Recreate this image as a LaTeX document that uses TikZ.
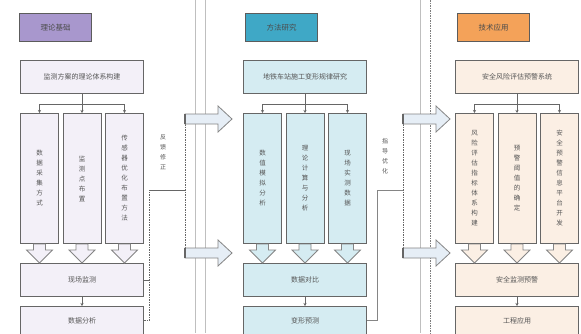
\documentclass[tikz,border=0pt]{standalone}
\usepackage{fontspec}
\newfontfamily\cjk{Noto Sans CJK SC}
\usetikzlibrary{arrows.meta}
\definecolor{purH}{HTML}{A897CD}
\definecolor{tealH}{HTML}{3FA8C6}
\definecolor{orgH}{HTML}{F4A259}
\definecolor{purL}{HTML}{F3F0F8}
\definecolor{tealL}{HTML}{D5ECF2}
\definecolor{orgL}{HTML}{FBEFE4}
\definecolor{edge}{HTML}{666666}
\definecolor{txt}{HTML}{555555}
\definecolor{arrL}{HTML}{E6EEF6}
\tikzset{
 base/.style={draw=edge, line width=1pt, inner sep=0pt, font=\cjk\fontsize{7}{10}\selectfont, text=txt, align=center, anchor=north west},
 hdr/.style={base, minimum width=72pt, minimum height=28pt, line width=1.2pt, draw=edge!90!black, font=\cjk\fontsize{7.5}{10}\selectfont, text=black!70},
 wide/.style={base, minimum width=123pt, minimum height=33pt},
 lowbox/.style={base, minimum width=123pt, minimum height=28pt},
 sub/.style={base, minimum width=38pt, minimum height=130pt, font=\cjk\fontsize{6.5}{10}\selectfont},
 link/.style={draw=edge, line width=0.6pt},
 dlink/.style={draw=edge, line width=0.9pt, dash pattern=on 1.5pt off 1pt},
 tip/.style={-{Stealth[length=3pt,width=3pt]}},
 barr/.style={draw=edge!80, line width=0.8pt, line join=miter},
 rail/.style={draw=gray!50, line width=0.8pt},
 vlab/.style={font=\cjk\fontsize{6}{10}\selectfont, text=txt, align=center, inner sep=0pt},
}
\newcommand\downarr[2]{\draw[barr, fill=#2] ([xshift=-6pt]#1.south) -- ++(12,0) -- ++(0,6) -- ++(7,0) -- ++(-13,13) -- ++(-13,-13) -- ++(7,0) -- cycle;}
\newcommand\rightarr[1]{\draw[barr, fill=arrL] ([yshift=5pt]#1) -- ++(33,0) -- ++(0,-8) -- ++(14,13) -- ++(-14,13) -- ++(0,-8) -- ++(-33,0) -- cycle;
 \draw[edge, line width=1.4pt] ([yshift=5pt]#1) -- ([yshift=-5pt]#1);}
\begin{document}
\begin{tikzpicture}[x=1pt,y=-1pt]
\useasboundingbox (0,0) rectangle (581,333);
\fill[white] (0,0) rectangle (581,333);
% rails
\draw[rail] (195,0) -- (195,333);
\draw[rail] (205,0) -- (205,333);
\draw[rail] (420,0) -- (420,333);
\draw[dlink, draw=edge!85] (430,0) -- (430,333);

% ---------- column 1 ----------
\node[hdr, fill=purH] (h1) at (19,13) {理论基础};
\node[wide, fill=purL] (t1) at (20,60) {监测方案的理论体系构建};
\node[sub, fill=purL] (a1) at (20,113) {数\\据\\采\\集\\方\\式};
\node[sub, fill=purL] (b1) at (62.5,113) {监\\测\\点\\布\\置};
\node[sub, fill=purL] (c1) at (105,113) {传\\感\\器\\优\\化\\布\\置\\方\\法};
\node[wide, fill=purL] (p1) at (20,263) {现场监测};
\node[lowbox, fill=purL] (q1) at (20,306) {数据分析};
\draw[link] (t1.south) -- ++(0,10) coordinate (j1);
\draw[link] (a1.north |- j1) -- (c1.north |- j1);
\draw[link,tip] (a1.north |- j1) -- (a1.north);
\draw[link,tip] (b1.north |- j1) -- (b1.north);
\draw[link,tip] (c1.north |- j1) -- (c1.north);
\draw[link,tip] (p1.south) -- (q1.north);
\downarr{a1}{purL}
\downarr{b1}{purL}
\downarr{c1}{purL}

% ---------- column 2 ----------
\node[hdr, fill=tealH] (h2) at (245,13) {方法研究};
\node[wide, fill=tealL] (t2) at (243,60) {地铁车站施工变形规律研究};
\node[sub, fill=tealL] (a2) at (243,113) {数\\值\\模\\拟\\分\\析};
\node[sub, fill=tealL] (b2) at (285.5,113) {理\\论\\计\\算\\与\\分\\析};
\node[sub, fill=tealL] (c2) at (328,113) {现\\场\\实\\测\\数\\据};
\node[wide, fill=tealL] (p2) at (243,263) {数据对比};
\node[lowbox, fill=tealL] (q2) at (243,306) {变形预测};
\draw[link] (t2.south) -- ++(0,10) coordinate (j2);
\draw[link] (a2.north |- j2) -- (c2.north |- j2);
\draw[link,tip] (a2.north |- j2) -- (a2.north);
\draw[link,tip] (b2.north |- j2) -- (b2.north);
\draw[link,tip] (c2.north |- j2) -- (c2.north);
\draw[link,tip] (p2.south) -- (q2.north);
\downarr{a2}{tealL}
\downarr{b2}{tealL}
\downarr{c2}{tealL}

% ---------- column 3 ----------
\node[hdr, fill=orgH] (h3) at (457,13) {技术应用};
\node[wide, fill=orgL] (t3) at (455,60) {安全风险评估预警系统};
\node[sub, fill=orgL] (a3) at (455,113) {风\\险\\评\\估\\指\\标\\体\\系\\构\\建};
\node[sub, fill=orgL] (b3) at (497.5,113) {预\\警\\阈\\值\\的\\确\\定};
\node[sub, fill=orgL] (c3) at (540,113) {安\\全\\预\\警\\信\\息\\平\\台\\开\\发};
\node[wide, fill=orgL] (p3) at (455,263) {安全监测预警};
\node[lowbox, fill=orgL] (q3) at (455,306) {工程应用};
\draw[link] (t3.south) -- ++(0,10) coordinate (j3);
\draw[link] (a3.north |- j3) -- (c3.north |- j3);
\draw[link,tip] (a3.north |- j3) -- (a3.north);
\draw[link,tip] (b3.north |- j3) -- (b3.north);
\draw[link,tip] (c3.north |- j3) -- (c3.north);
\draw[link,tip] (p3.south) -- (q3.north);
\downarr{a3}{orgL}
\downarr{b3}{orgL}
\downarr{c3}{orgL}

% ---------- links between columns ----------
\coordinate (u1) at (185,119);
\coordinate (l1) at (185,253);
\coordinate (m1) at (149,190);
\coordinate (u2) at (403,119);
\coordinate (l2) at (403,253);
\coordinate (m2) at (377,190);

\draw[link] (p1.east) -- (p1.east -| m1);
\draw[dlink] (q1.east) -- (q1.east -| m1) -- (m1);
\draw[link] (m1) -- (m1 -| u1);
\draw[dlink] (u1) -- (l1);
\rightarr{u1}
\rightarr{l1}

\draw[link, line width=0.9pt, draw=edge!80] (q2.east) -- (q2.east -| m2) -- (m2) -- (m2 -| u2);
\draw[dlink] (u2) -- (l2);
\rightarr{u2}
\rightarr{l2}

\node[vlab] (v1) at (163,152) {反\\馈\\修\\正};
\node[vlab] (v2) at (385,156) {指\\导\\优\\化};
\end{tikzpicture}
\end{document}
